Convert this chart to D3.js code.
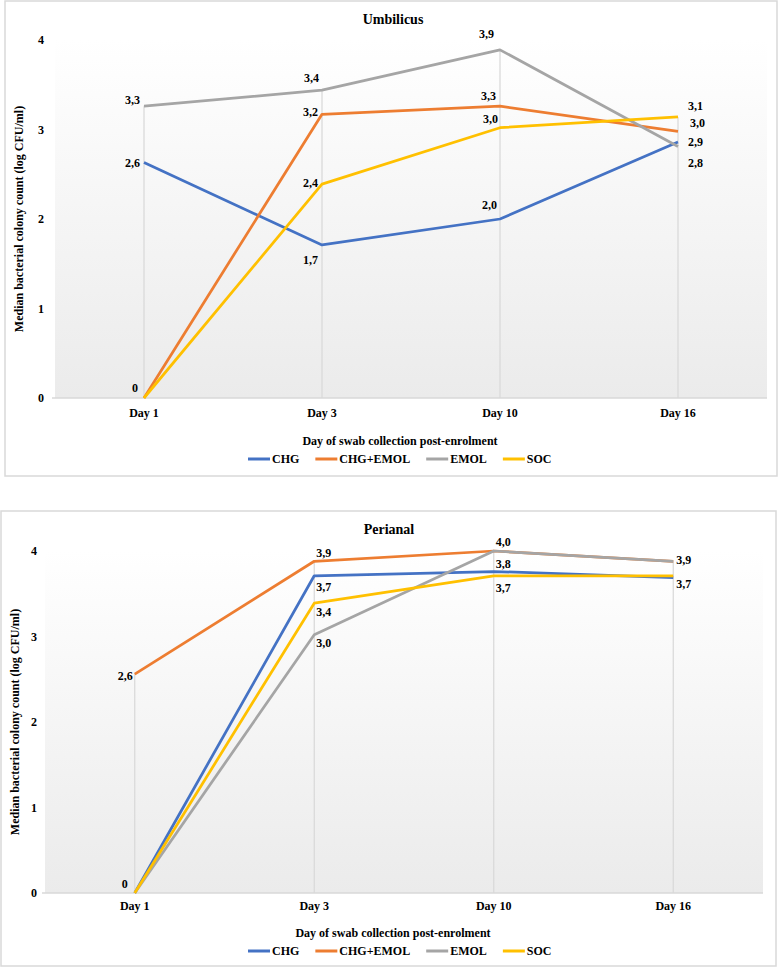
<!DOCTYPE html>
<html>
<head>
<meta charset="utf-8">
<script src="https://cdn.jsdelivr.net/npm/d3@7"></script>
<style>
  body { margin: 0; background: #fff; }
  svg { display: block; font-family: "Liberation Serif", "Times New Roman", serif; font-weight: bold; }
</style>
</head>
<body>
<svg id="chart" width="781" height="968"></svg>
<script>
// data
var days = ["Day 1", "Day 3", "Day 10", "Day 16"];
var seriesNames = ["CHG", "CHG+EMOL", "EMOL", "SOC"];
var yTicks = [0, 1, 2, 3, 4];

var umbilicusCHG     = [2.63, 1.71, 2.00, 2.86];
var umbilicusCHGEMOL = [0, 3.17, 3.26, 2.98];
var umbilicusEMOL    = [3.26, 3.44, 3.89, 2.81];
var umbilicusSOC     = [0, 2.39, 3.02, 3.14];

var perianalCHG     = [0, 3.71, 3.76, 3.69];
var perianalCHGEMOL = [2.56, 3.88, 4.00, 3.88];
var perianalEMOL    = [0, 3.02, 4.00, 3.88];
var perianalSOC     = [0, 3.39, 3.71, 3.71];

var colors = ["#4472C4", "#ED7D31", "#A5A5A5", "#FFC000"];

// label placement: [dx, dy, anchor] per point, null = hidden
var umbilicusLabels = [
    [[-4, 4, "end"], [-4, 19, "end"], [-3, -10, "end"], [10, 4, "start"]],
    [[-6, -6, "end"], [-4, 2, "end"], [-4, -6, "end"], [12, -4, "start"]],
    [[-4, -2, "end"], [-3, -8, "end"], [-6, -12, "end"], [10, 20, "start"]],
    [null, [-4, 3, "end"], [-2, -5, "end"], [10, -7, "start"]]
];
var perianalLabels = [
    [[-7, -5, "end"], [2, 15, "start"], [2, -4, "start"], [3, 10, "start"]],
    [[-2, 6, "end"], [2, -4, "start"], null, null],
    [null, [2, 12, "start"], [2, -5, "start"], [3, 3, "start"]],
    [null, [2, 13, "start"], [2, 16, "start"], null]
];

var svg = d3.select('#chart');

var defs = svg.append('defs');
var grad = defs.append('linearGradient')
    .attr('id', 'plotBg')
    .attr('x1', 0).attr('y1', 0).attr('x2', 0).attr('y2', 1);
grad.append('stop').attr('offset', '0%').attr('stop-color', '#ffffff');
grad.append('stop').attr('offset', '100%').attr('stop-color', '#ebebeb');

function fmt(v){
    if(v === 0) return "0";
    return d3.format(".1f")(v).replace(".", ",");
}

function drawChart(opt){
    var g = svg.append('g');

    // panel border
    g.append('rect')
        .attr('x', opt.box[0]).attr('y', opt.box[1])
        .attr('width', opt.box[2]).attr('height', opt.box[3])
        .style('fill', '#fff')
        .style('stroke', '#d9d9d9')
        .style('stroke-width', 1.5);

    var x = d3.scalePoint()
        .domain(days)
        .range([opt.plot[0], opt.plot[1]])
        .padding(0.5);
    var y = d3.scaleLinear()
        .domain([0, 4])
        .range([opt.plot[3], opt.plot[2]]);

    // plot background
    g.append('rect')
        .attr('x', opt.plot[0]).attr('y', y(4))
        .attr('width', opt.plot[1] - opt.plot[0])
        .attr('height', y(0) - y(4))
        .style('fill', 'url(#plotBg)');

    // drop lines, from the highest point of each day down to the axis
    g.selectAll('line.drop')
        .data(days)
        .enter().append('line')
        .attr('class', 'drop')
        .attr('x1', function(d){ return x(d); })
        .attr('x2', function(d){ return x(d); })
        .attr('y1', function(d, i){
            return y(d3.max(opt.series, function(s){ return s[i]; }));
        })
        .attr('y2', y(0))
        .style('stroke', '#d9d9d9')
        .style('stroke-width', 1.25);

    // x axis line
    g.append('line')
        .attr('x1', opt.plot[0] - 3).attr('x2', opt.plot[1])
        .attr('y1', y(0)).attr('y2', y(0))
        .style('stroke', '#d9d9d9')
        .style('stroke-width', 1.5);

    // y tick labels
    g.selectAll('text.ytick')
        .data(yTicks)
        .enter().append('text')
        .attr('class', 'ytick')
        .attr('x', opt.yTickX)
        .attr('y', function(d){ return y(d) + 4; })
        .attr('text-anchor', 'end')
        .attr('font-size', 12)
        .text(function(d){ return d; });

    // x tick labels
    g.selectAll('text.xtick')
        .data(days)
        .enter().append('text')
        .attr('class', 'xtick')
        .attr('x', function(d){ return x(d); })
        .attr('y', y(0) + opt.xTickDy)
        .attr('text-anchor', 'middle')
        .attr('font-size', 12)
        .text(function(d){ return d; });

    // titles
    g.append('text')
        .attr('x', opt.titleX).attr('y', opt.titleY)
        .attr('text-anchor', 'middle')
        .attr('font-size', 14)
        .text(opt.title);

    g.append('text')
        .attr('x', opt.xTitleX).attr('y', y(0) + opt.xTitleDy)
        .attr('text-anchor', 'middle')
        .attr('font-size', 12)
        .text('Day of swab collection post-enrolment');

    g.append('text')
        .attr('transform', 'translate(' + opt.yTitleX + ',' + ((y(0) + y(4)) / 2) + ') rotate(-90)')
        .attr('text-anchor', 'middle')
        .attr('font-size', 12)
        .text('Median bacterial colony count (log CFU/ml)');

    // lines
    var line = d3.line()
        .x(function(d, i){ return x(days[i]); })
        .y(function(d){ return y(d); });

    opt.series.forEach(function(values, s){
        g.append('path')
            .datum(values)
            .attr('d', line)
            .style('fill', 'none')
            .style('stroke', colors[s])
            .style('stroke-width', 2.75)
            .style('stroke-linejoin', 'round');
    });

    // data labels
    opt.series.forEach(function(values, s){
        values.forEach(function(v, i){
            var lab = opt.labels[s][i];
            if(!lab) return;
            g.append('text')
                .attr('x', x(days[i]) + lab[0])
                .attr('y', y(v) + lab[1])
                .attr('text-anchor', lab[2])
                .attr('font-size', 12)
                .text(fmt(v));
        });
    });

    // legend
    var legend = g.append('g')
        .attr('transform', 'translate(0,' + opt.legendY + ')');
    var lx = opt.legendX;
    seriesNames.forEach(function(name, s){
        legend.append('line')
            .attr('x1', lx).attr('x2', lx + 22)
            .attr('y1', 0).attr('y2', 0)
            .style('stroke', colors[s])
            .style('stroke-width', 3);
        var t = legend.append('text')
            .attr('x', lx + 24).attr('y', 4)
            .attr('font-size', 12)
            .text(name);
        lx += 24 + t.node().getComputedTextLength() + 16;
    });
}

drawChart({
    title: 'Umbilicus',
    box: [5, 1, 772, 475],
    plot: [55, 767, 40, 398],
    series: [umbilicusCHG, umbilicusCHGEMOL, umbilicusEMOL, umbilicusSOC],
    labels: umbilicusLabels,
    yTickX: 44,
    yTitleX: 23,
    titleX: 393,
    titleY: 24,
    xTickDy: 19,
    xTitleDy: 47,
    xTitleX: 400,
    legendX: 248,
    legendY: 459
});

drawChart({
    title: 'Perianal',
    box: [1, 511, 775, 455],
    plot: [45, 763, 551, 893],
    series: [perianalCHG, perianalCHGEMOL, perianalEMOL, perianalSOC],
    labels: perianalLabels,
    yTickX: 37,
    yTitleX: 19,
    titleX: 389,
    titleY: 534,
    xTickDy: 17,
    xTitleDy: 44,
    xTitleX: 393,
    legendX: 248,
    legendY: 951
});
</script>
</body>
</html>
